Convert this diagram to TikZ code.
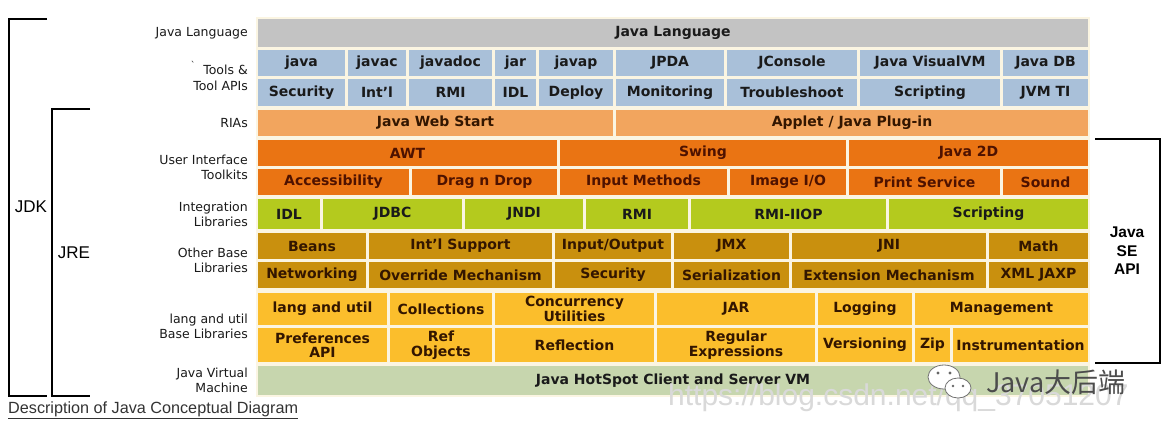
\documentclass[tikz,border=0pt]{standalone}
\usepackage{fontspec}
\setmainfont{DejaVu Sans}
\newfontfamily\libsans{Liberation Sans}
\newfontfamily\cjkfont{Noto Sans CJK SC}
\definecolor{cgray}{HTML}{C3C3C3}
\definecolor{cblue}{HTML}{A9C0D9}
\definecolor{cria}{HTML}{F2A55E}
\definecolor{cui}{HTML}{EA7413}
\definecolor{cint}{HTML}{B4CA1E}
\definecolor{cother}{HTML}{C9900E}
\definecolor{clang}{HTML}{FBBE2C}
\definecolor{cjvm}{HTML}{C7D6AE}
\definecolor{cgap}{HTML}{FBF5E2}
\definecolor{tdark}{HTML}{1A1A1A}
\definecolor{tmaroon}{HTML}{4E1200}
\definecolor{tbrown}{HTML}{331600}
\definecolor{wmark}{HTML}{D9D9D9}
\tikzset{
  cellst/.style={draw=none, inner sep=0pt, align=center,
    font=\bfseries\fontsize{14}{14.5}\selectfont},
  sidelbl/.style={anchor=east, align=right, inner sep=0pt, text=tdark,
    font=\fontsize{12.5}{15.5}\selectfont},
  brk/.style={line width=2.4pt, black},
  biglbl/.style={inner sep=0pt, text=black, font=\libsans\fontsize{17}{20}\selectfont},
}
\newcommand\cellbox[8]{%
  \pgfmathsetmacro\cw{#3-#2}\pgfmathsetmacro\ch{#5-#4}%
  \node[cellst, fill=#6, text=#7, minimum width=\cw pt, minimum height=\ch pt]
    (#1) at ({(#2+#3)/2},{(#4+#5)/2}) {#8};}
\begin{document}
\begin{tikzpicture}[x=1pt, y=-1pt]
\useasboundingbox (0,0) rectangle (1176,434);
\fill[white] (0,0) rectangle (1176,434);
% block background (gaps)
\fill[cgap] (256,17) rectangle (1090,397);

% Java Language
\cellbox{jl}{258}{1088}{19}{47}{cgray}{tdark}{Java Language}

% Tools row 1
\cellbox{t1a}{258}{345}{50}{76}{cblue}{tdark}{java}
\cellbox{t1b}{348}{406}{50}{76}{cblue}{tdark}{javac}
\cellbox{t1c}{409}{492}{50}{76}{cblue}{tdark}{javadoc}
\cellbox{t1d}{495}{536}{50}{76}{cblue}{tdark}{jar}
\cellbox{t1e}{539}{613}{50}{76}{cblue}{tdark}{javap}
\cellbox{t1f}{616}{724}{50}{76}{cblue}{tdark}{JPDA}
\cellbox{t1g}{727}{857}{50}{76}{cblue}{tdark}{JConsole}
\cellbox{t1h}{860}{1000}{50}{76}{cblue}{tdark}{Java VisualVM}
\cellbox{t1i}{1003}{1088}{50}{76}{cblue}{tdark}{Java DB}
% Tools row 2
\cellbox{t2a}{258}{345}{79}{106}{cblue}{tdark}{Security}
\cellbox{t2b}{348}{406}{79}{106}{cblue}{tdark}{Int'l}
\cellbox{t2c}{409}{492}{79}{106}{cblue}{tdark}{RMI}
\cellbox{t2d}{495}{536}{79}{106}{cblue}{tdark}{IDL}
\cellbox{t2e}{539}{613}{79}{106}{cblue}{tdark}{Deploy}
\cellbox{t2f}{616}{724}{79}{106}{cblue}{tdark}{Monitoring}
\cellbox{t2g}{727}{857}{79}{106}{cblue}{tdark}{Troubleshoot}
\cellbox{t2h}{860}{1000}{79}{106}{cblue}{tdark}{Scripting}
\cellbox{t2i}{1003}{1088}{79}{106}{cblue}{tdark}{JVM TI}

% RIAs
\cellbox{r1}{258}{613}{110}{136}{cria}{tbrown}{Java Web Start}
\cellbox{r2}{616}{1088}{110}{136}{cria}{tbrown}{Applet / Java Plug-in}

% UI row 1
\cellbox{u1a}{258}{557}{140}{166}{cui}{tmaroon}{AWT}
\cellbox{u1b}{560}{846}{140}{166}{cui}{tmaroon}{Swing}
\cellbox{u1c}{849}{1088}{140}{166}{cui}{tmaroon}{Java 2D}
% UI row 2
\cellbox{u2a}{258}{409}{169}{195}{cui}{tmaroon}{Accessibility}
\cellbox{u2b}{412}{557}{169}{195}{cui}{tmaroon}{Drag n Drop}
\cellbox{u2c}{560}{727}{169}{195}{cui}{tmaroon}{Input Methods}
\cellbox{u2d}{730}{846}{169}{195}{cui}{tmaroon}{Image I/O}
\cellbox{u2e}{849}{1000}{169}{195}{cui}{tmaroon}{Print Service}
\cellbox{u2f}{1003}{1088}{169}{195}{cui}{tmaroon}{Sound}

% Integration
\cellbox{i1}{258}{320}{199}{229}{cint}{tdark}{IDL}
\cellbox{i2}{323}{462}{199}{229}{cint}{tdark}{JDBC}
\cellbox{i3}{465}{583}{199}{229}{cint}{tdark}{JNDI}
\cellbox{i4}{586}{688}{199}{229}{cint}{tdark}{RMI}
\cellbox{i5}{691}{886}{199}{229}{cint}{tdark}{RMI-IIOP}
\cellbox{i6}{889}{1088}{199}{229}{cint}{tdark}{Scripting}

% Other base row 1
\cellbox{o1a}{258}{366}{233}{259}{cother}{tbrown}{Beans}
\cellbox{o1b}{369}{552}{233}{259}{cother}{tbrown}{Int'l Support}
\cellbox{o1c}{555}{671}{233}{259}{cother}{tbrown}{Input/Output}
\cellbox{o1d}{674}{789}{233}{259}{cother}{tbrown}{JMX}
\cellbox{o1e}{792}{986}{233}{259}{cother}{tbrown}{JNI}
\cellbox{o1f}{989}{1088}{233}{259}{cother}{tbrown}{Math}
% Other base row 2
\cellbox{o2a}{258}{366}{262}{288}{cother}{tbrown}{Networking}
\cellbox{o2b}{369}{552}{262}{288}{cother}{tbrown}{Override Mechanism}
\cellbox{o2c}{555}{671}{262}{288}{cother}{tbrown}{Security}
\cellbox{o2d}{674}{789}{262}{288}{cother}{tbrown}{Serialization}
\cellbox{o2e}{792}{986}{262}{288}{cother}{tbrown}{Extension Mechanism}
\cellbox{o2f}{989}{1088}{262}{288}{cother}{tbrown}{XML JAXP}

% lang and util row 1
\cellbox{l1a}{258}{387}{293}{325}{clang}{tbrown}{lang and util}
\cellbox{l1b}{390}{492}{293}{325}{clang}{tbrown}{Collections}
\cellbox{l1c}{495}{654}{293}{325}{clang}{tbrown}{Concurrency\\Utilities}
\cellbox{l1d}{657}{815}{293}{325}{clang}{tbrown}{JAR}
\cellbox{l1e}{818}{912}{293}{325}{clang}{tbrown}{Logging}
\cellbox{l1f}{915}{1088}{293}{325}{clang}{tbrown}{Management}
% lang and util row 2
\cellbox{l2a}{258}{387}{328}{362}{clang}{tbrown}{Preferences\\API}
\cellbox{l2b}{390}{492}{328}{362}{clang}{tbrown}{Ref\\Objects}
\cellbox{l2c}{495}{654}{328}{362}{clang}{tbrown}{Reflection}
\cellbox{l2d}{657}{815}{328}{362}{clang}{tbrown}{Regular\\Expressions}
\cellbox{l2e}{818}{912}{328}{362}{clang}{tbrown}{Versioning}
\cellbox{l2f}{915}{950}{328}{362}{clang}{tbrown}{Zip}
\cellbox{l2g}{953}{1088}{328}{362}{clang}{tbrown}{Instrumentation}

% JVM
\cellbox{jvm}{258}{1088}{366}{395}{cjvm}{tdark}{Java HotSpot Client and Server VM}

% side labels
\node[sidelbl] (sl1) at (248,33) {Java Language};
\node[sidelbl] (sl2) at (248,78) {Tools \&\\Tool APIs};
\node[inner sep=0pt, font=\fontsize{9}{9}\selectfont, text=tdark] (tick) at (193,65) {\textasciigrave};
\node[sidelbl] (sl3) at (248,123) {RIAs};
\node[sidelbl] (sl4) at (248,167.5) {User Interface\\Toolkits};
\node[sidelbl] (sl5) at (248,214.5) {Integration\\Libraries};
\node[sidelbl] (sl6) at (248,260.5) {Other Base\\Libraries};
\node[sidelbl] (sl7) at (248,326.5) {lang and util\\Base Libraries};
\node[sidelbl] (sl8) at (248,380.5) {Java Virtual\\Machine};

% brackets
\coordinate (jdkt) at (47,19);
\coordinate (jdkb) at (47,396);
\draw[brk] (jdkt) -| (9,396) -- (jdkb);
\coordinate (jret) at (90,109);
\coordinate (jreb) at (90,396);
\draw[brk] (jret) -| (52,396) -- (jreb);
\coordinate (apit) at (1095,139);
\coordinate (apib) at (1095,363);
\draw[brk] (apit) -| (1160,363) -- (apib);

\node[biglbl] (jdk) at (31,207) {JDK};
\node[biglbl] (jre) at (74,253) {JRE};
\node[inner sep=0pt, align=center, text=black, font=\libsans\bfseries\fontsize{15.5}{18.5}\selectfont] (api) at (1127,251) {Java\\SE\\API};

% description link
\node[anchor=west, inner sep=0pt, text=black!80, font=\libsans\fontsize{16.2}{18}\selectfont] (desc) at (8,410) {\underline{Description of Java Conceptual Diagram}};

% watermarks
\node[anchor=west, inner sep=0pt, text=wmark, font=\libsans\fontsize{30}{32}\selectfont] (wm1) at (668,398) {https://blog.csdn.net/qq\_37051207};
\fill[white, draw=black!55, line width=0.8pt] (944,377) ellipse [x radius=16, y radius=12];
\fill[white, draw=black!55, line width=0.8pt] (958,388) ellipse [x radius=13, y radius=10];
\fill[black!60] (938,373) circle (1.6) (950,373) circle (1.6) (953,386) circle (1.3) (963,386) circle (1.3);
\node[anchor=west, inner sep=0pt, text=black!70, font=\cjkfont\fontsize{27}{29}\selectfont] (wm2) at (986,382) {Java大后端};
\end{tikzpicture}
\end{document}
